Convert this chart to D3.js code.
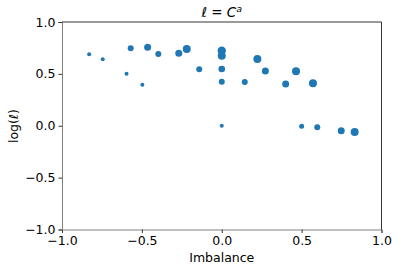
<!DOCTYPE html>
<html><head><meta charset="utf-8">
<script src="https://cdn.jsdelivr.net/npm/d3@7"></script>
<style>body{margin:0;background:#fff}svg{display:block}text{font-family:"DejaVu Sans",sans-serif}</style>
</head><body>
<script>
const imbalance = [-0.83,-0.745,-0.57,-0.464,-0.397,-0.269,-0.219,0,0,-0.596,-0.497,-0.141,0,0,0,0.144,0.223,0.273,0.4,0.465,0.571,0.5,0.598,0.748,0.832];
const logEll =    [0.689,0.64,0.746,0.756,0.692,0.698,0.74,0.723,0.675,0.502,0.396,0.544,0.547,0.425,0,0.422,0.643,0.528,0.402,0.525,0.409,-0.005,-0.015,-0.048,-0.06];
const sizes =     [4,4,9,12.25,9,12.25,16,17.6,16,4,4,9,11,9,4,9,16,12.25,12.25,16,16,6.25,9,12.25,16];
const xTicks = [-1.0,-0.5,0.0,0.5,1.0];
const yTicks = [-1.0,-0.5,0.0,0.5,1.0];

const W=399,H=273;
const svg=d3.select("body").append("svg").attr("width",W).attr("height",H);
const x=d3.scaleLinear().domain([-1,1]).range([62,381.5]);
const y=d3.scaleLinear().domain([-1,1]).range([229.5,22]);
const r=d3.scaleSqrt().domain([0,16]).range([0,4]);
const fmt=d=>d3.format(".1f")(d).replace("-","\u2212");

const gx=svg.append("g").attr("transform","translate(0,229.5)")
  .call(d3.axisBottom(x).tickValues(xTicks).tickFormat(fmt).tickSize(3.5).tickPadding(3));
const gy=svg.append("g").attr("transform","translate(62,0)")
  .call(d3.axisLeft(y).tickValues(yTicks).tickFormat(fmt).tickSize(3.5).tickPadding(3));
[gx,gy].forEach(g=>{g.selectAll("text").attr("font-size",12.5).attr("fill","#000").attr("font-family","DejaVu Sans");
  g.select(".domain").attr("stroke","#808080");
  g.selectAll(".tick line").attr("stroke","#333");});
svg.append("line").attr("x1",62).attr("x2",381.5).attr("y1",22).attr("y2",22).attr("stroke","#000").attr("stroke-width",0.8);
svg.append("line").attr("x1",381.5).attr("x2",381.5).attr("y1",22).attr("y2",229.5).attr("stroke","#000").attr("stroke-width",0.8);

svg.append("g").selectAll("circle").data(imbalance).join("circle")
  .attr("cx",(d,i)=>x(d)).attr("cy",(d,i)=>y(logEll[i])).attr("r",(d,i)=>r(sizes[i]))
  .attr("fill","#1f77b4");

svg.append("text").attr("x",221.75).attr("y",262).attr("text-anchor","middle").attr("font-size",12.5).text("Imbalance");
svg.append("text").attr("transform","translate(18,126) rotate(-90)").attr("text-anchor","middle").attr("font-size",12.5)
  .html('log(<tspan font-style="italic">ℓ</tspan>)');
const t=svg.append("text").attr("x",221.75).attr("y",17).attr("text-anchor","middle").attr("font-size",13.5);
t.append("tspan").attr("font-style","italic").text("ℓ");
t.append("tspan").text(" = ");
t.append("tspan").attr("font-style","italic").text("C");
t.append("tspan").attr("font-style","italic").attr("font-size",9.5).attr("dy",-5).text("a");
</script>
</body></html>
